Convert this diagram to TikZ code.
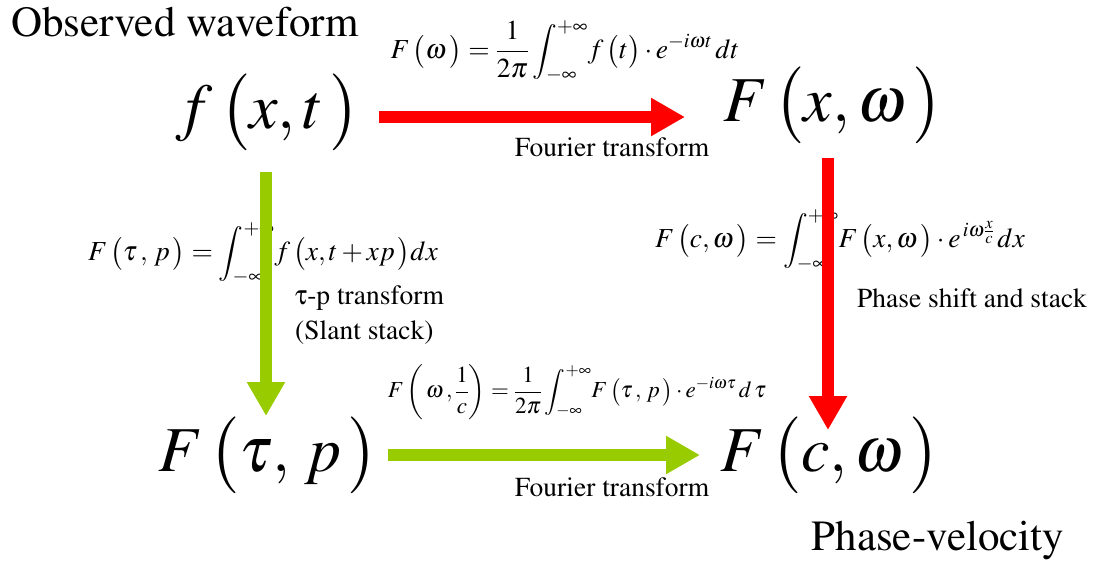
\documentclass[tikz,border=0pt]{standalone}
\usepackage[T1]{fontenc}
\usepackage{mathptmx}
\usetikzlibrary{arrows.meta,calc}
\definecolor{arrred}{HTML}{FF0000}
\definecolor{arrgreen}{HTML}{99CC00}
\newcommand{\uptau}{{\usefont{U}{psy}{m}{n}t}}
\tikzset{
  big/.style={inner sep=0pt, font=\fontsize{64}{72}\selectfont},
  formula/.style={inner sep=0pt, font=\fontsize{27.5}{32}\selectfont},
  smallformula/.style={inner sep=0pt, font=\fontsize{23}{27}\selectfont},
  caption/.style={inner sep=0pt, font=\fontsize{27.5}{32}\selectfont},
  title/.style={inner sep=0pt, font=\fontsize{43}{48}\selectfont},
  fatarrow/.style={line width=12pt, -{Triangle[width=36pt,length=34pt]}},
  redarrow/.style={fatarrow, draw=arrred, fill=arrred},
  greenarrow/.style={fatarrow, draw=arrgreen, fill=arrgreen},
}
\begin{document}
\begin{tikzpicture}[x=1pt,y=-1pt]
\useasboundingbox (0,0) rectangle (1097,565);
% titles
\node[title] (obs) at (185,22) {Observed waveform};
\node[title] (pv) at (938,541) {Phase-velocity};
% main quantities
\node[big] (fxt) at (268,112) {$f\,\bigl(x,t\,\bigr)$};
\node[big] (Fxw) at (833,105) {$F\,\bigl(x,\omega\,\bigr)$};
\node[big] (Ftp) at (268,455) {$F\,\bigl(\tau,\,p\,\bigr)$};
\node[big] (Fcw) at (830,455) {$F\,\bigl(c,\omega\,\bigr)$};
% formulas
\node[formula] (f1) at (565,51) {$\displaystyle F\,\bigl(\omega\,\bigr)=\frac{1}{2\pi}\int_{-\infty}^{+\infty}\! f\,\bigl(t\bigr)\cdot e^{-i\omega t}\,dt$};
\node[formula] (f2) at (263,253) {$\displaystyle F\,\bigl(\tau\,,\,p\,\bigr)=\int_{-\infty}^{+\infty}\! f\,\bigl(x,t+xp\,\bigr)dx$};
\node[formula] (f3) at (840,240) {$\displaystyle F\,\bigl(c,\omega\,\bigr)=\int_{-\infty}^{+\infty}\! F\,\bigl(x,\omega\,\bigr)\cdot e^{\,i\omega\frac{x}{c}}\,dx$};
\node[smallformula] (f4) at (577,392) {$\displaystyle F\left(\,\omega\,,\frac{1}{c}\right)=\frac{1}{2\pi}\int_{-\infty}^{+\infty}\! F\,\bigl(\tau\,,\,p\,\bigr)\cdot e^{-i\omega\tau}\,d\,\tau$};
% captions
\node[caption] (c1) at (612,147) {Fourier transform};
\node[caption] (c2) at (612,487) {Fourier transform};
\node[caption, anchor=west] (c3) at (295,298) {\uptau-p transform};
\node[caption, anchor=west] (c4) at (295,333) {(Slant stack)};
\node[caption] (c5) at (972,298) {Phase shift and stack};
% arrows
\draw[redarrow] ($(fxt.center)+(111,5)$) -- ($(Fxw.center)+(-148,12)$);
\draw[greenarrow] ($(fxt.center)+(-2,60)$) -- ($(Ftp.center)+(-2,-39)$);
\draw[redarrow] ($(Fxw.center)+(-5,53)$) -- ($(Fcw.center)+(-2,-25)$);
\draw[greenarrow] ($(Ftp.center)+(120,0)$) -- ($(Fcw.center)+(-130,0)$);
\end{tikzpicture}
\end{document}
